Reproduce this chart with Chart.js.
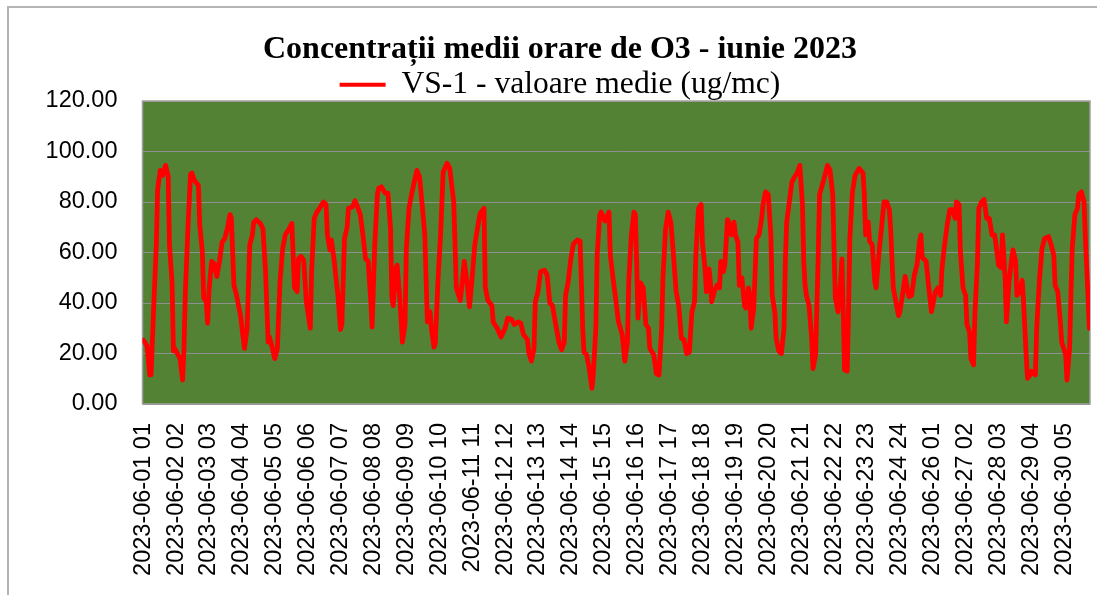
<!DOCTYPE html>
<html>
<head>
<meta charset="utf-8">
<script src="https://cdn.jsdelivr.net/npm/chart.js@4.4.0/dist/chart.umd.min.js"></script>
<style>
  html, body { margin: 0; padding: 0; background: #fff; }
  #wrap { width: 1097px; height: 595px; }
</style>
</head>
<body>
<div id="wrap"><canvas id="o3Chart" width="1097" height="595"></canvas></div>
<script>
// Hourly O3 averages, June 2023 (hour index from 2023-06-01 01)
const hours = [0,3,5,6,8,10,11,13,15,17,19,20,22,23,24,26,28,30,31,32,34,36,37,39,42,43,45,46,48,49,50,52,54,56,58,60,62,64,66,67,69,71,74,77,79,81,83,84,86,89,91,93,95,96,98,100,102,104,106,108,111,113,115,117,118,120,122,124,127,128,130,132,134,137,139,140,142,143,145,148,150,151,153,155,156,159,161,163,165,167,169,171,173,174,176,178,179,181,184,186,188,189,190,192,193,195,197,199,200,202,204,206,208,210,212,214,216,218,219,221,222,224,226,228,231,233,236,238,241,243,244,246,248,250,252,254,256,257,259,260,262,265,266,269,272,275,277,280,282,285,287,289,292,293,295,297,298,300,302,305,307,309,311,314,316,318,320,321,323,325,327,330,332,333,334,335,337,339,341,342,344,345,347,348,351,354,355,357,359,361,364,366,368,369,371,373,374,375,376,378,380,382,384,385,388,390,392,394,395,397,399,401,403,405,407,409,411,413,415,417,419,420,422,424,425,427,428,430,431,432,434,436,438,439,441,442,444,445,447,449,450,452,453,455,457,458,460,461,462,464,466,468,470,471,473,475,477,478,480,481,483,485,487,488,489,491,493,495,497,499,501,502,503,504,506,508,509,511,513,514,517,520,522,524,525,526,528,530,531,532,533,535,536,537,539,541,544,547,548,549,551,552,554,556,557,559,561,563,565,567,568,570,572,574,575,577,579,581,582,584,586,588,590,591,592,594,595,597,599,600,602,604,606,607,609,611,613,615,617,618,620,621,623,625,626,628,629,631,632,634,635,637,639,641,643,645,647,648,650,652,653,655,656,658,660,661,663,664,666,668,669,671,672,674,675,678,679,681,683,685,688,690,692,693,695,697,698,701,702,704,705,706,708,710,711,713,715,716,718,719];
const o3 = [25.3,23,11.5,11.5,38,63,85,92.5,90.5,94.5,90.5,63,48,21,22,20,18,9.5,22,43,69.5,91,91.5,88.5,86.5,71,60,42,40.5,32,44.5,56.5,55.5,50.5,56.5,64,65.5,69.5,75,73.5,47,43,35,22,30,63,67,72,73,71.5,69.5,52.5,24.5,26.5,22.5,18,22,48.5,61.5,67,69.5,71.5,46,44.5,57.5,58.5,57,40.5,30,52.5,73.5,76,77.5,80,79,67,61,65,57.5,43,29.5,31.5,65.5,70,77.5,78,80.5,78,75,67,57.5,56.5,40.5,30.5,63,83,85.5,86,83.5,83.5,69.5,42,39,53.5,55,42,24.5,31.5,61.5,77.5,83,88,92.5,90,79,67,32.5,36.5,30,22.5,24,48.5,67,92,95.3,93.3,80,46,41,51,56.5,48.5,38.5,50,63,69.5,75.5,76,77.5,46,41,39,32.5,30,26.5,30,34,33.5,31.5,32.5,32,27.5,25.5,20.5,17,22,40.5,44.5,52.5,53,51,40,39,30,24.5,21.5,24.5,43,48.5,57.5,63.5,65,64.5,48.5,30,20.5,19.5,14,6.2,11.5,30,59,75,76,72.5,76,59,50,42,33,27.5,17,24.5,48.5,67,76,75,56.5,34,48,46,31.5,30,22,19.5,12,11.5,30,50,69.5,76,72,59,44.5,39,26,25.5,20,20.5,36.5,40.5,59,77.5,79,64,53.5,44.5,53.5,48.5,40.5,44.5,47,46,56.5,52.5,55,73,72,67,72,67,64,47,50,39,38,46,43,30,38,65.5,67,73.5,79,84,83,67,43,36.5,26,21,20,30,56.5,72,80,88,90,91.5,94.5,79,56.5,47,43,39,26,14,19.5,59,83,88.5,94.5,92.5,83,61.5,42,36.5,48.5,57.5,36.5,13.5,13,36.5,65.5,84,90.5,93.3,91.5,83,67,72,64.5,63,48.5,46,59,69.5,80,80,77,69.5,46,40.5,35,36.5,43,50.5,44.5,42.5,43,51,55,64.5,67,58,57,56.5,46,36.5,39,44.5,46,43,53.5,63,71,77,77,73.5,80,79,60.5,46,43,31.5,28.5,18,15.5,35,56.5,77.5,80,81,73.5,73.5,67,67,63.5,55,54,67,50,32.5,48.5,57.5,61,56.5,43,44.5,49,40.5,19.5,10.2,11.5,13,11.5,30,48.5,61.5,65.5,66.3,63,59,47,44.5,32.5,24.5,19.5,9.5,22,43,61.5,75,77.5,83,84,80,65.5,43,30];

// Axis labels: Excel shows one every 25 hours
const tickHours = [0,25,50,75,100,125,150,175,200,225,250,275,300,325,350,375,400,425,450,475,500,525,550,575,600,625,650,675,700];
const tickLabels = ['2023-06-01 01','2023-06-02 02','2023-06-03 03','2023-06-04 04','2023-06-05 05','2023-06-06 06','2023-06-07 07','2023-06-08 08','2023-06-09 09','2023-06-10 10','2023-06-11 11','2023-06-12 12','2023-06-13 13','2023-06-14 14','2023-06-15 15','2023-06-16 16','2023-06-17 17','2023-06-18 18','2023-06-19 19','2023-06-20 20','2023-06-21 21','2023-06-22 22','2023-06-23 23','2023-06-24 24','2023-06-26 01','2023-06-27 02','2023-06-28 03','2023-06-29 04','2023-06-30 05'];
const yTicks = [0, 20, 40, 60, 80, 100, 120];

const seriesName = 'VS-1 - valoare medie (ug/mc)';
const chartTitle = 'Concentrații medii orare de O3 - iunie 2023';

// background of plot area + outer chart frame
const framePlugin = {
  id: 'frame',
  beforeDraw(chart) {
    const { ctx, chartArea: a } = chart;
    ctx.save();
    ctx.fillStyle = '#ffffff';
    ctx.fillRect(0, 0, chart.width, chart.height);
    ctx.strokeStyle = '#b4b4b4';
    ctx.lineWidth = 2;
    ctx.beginPath();
    ctx.moveTo(8, chart.height + 2);
    ctx.lineTo(8, 7);
    ctx.lineTo(chart.width + 2, 7);
    ctx.stroke();
    ctx.fillStyle = '#548235';
    ctx.fillRect(a.left, a.top, a.right - a.left, a.bottom - a.top);
    ctx.restore();
  },
  beforeDatasetsDraw(chart) {
    const { ctx, chartArea: a } = chart;
    ctx.save();
    ctx.strokeStyle = '#a0a0a0';
    ctx.lineWidth = 1.5;
    ctx.strokeRect(a.left, a.top, a.right - a.left, a.bottom - a.top);
    ctx.restore();
  }
};

const ctx = document.getElementById('o3Chart').getContext('2d');
new Chart(ctx, {
  type: 'line',
  data: {
    datasets: [{
      label: seriesName,
      data: hours.map((h, i) => ({ x: h, y: o3[i] })),
      borderColor: '#ff0000',
      backgroundColor: '#ff0000',
      borderWidth: 4.8,
      borderJoinStyle: 'round',
      borderCapStyle: 'round',
      pointRadius: 0,
      tension: 0,
      fill: false
    }]
  },
  options: {
    responsive: false,
    animation: false,
    devicePixelRatio: 1,
    layout: { padding: { top: 0, left: 30, right: 7, bottom: 0 } },
    plugins: {
      title: {
        display: true,
        text: chartTitle,
        color: '#000',
        font: { family: 'Liberation Serif', size: 32, weight: 'bold' },
        padding: { top: 30.4, bottom: 0.1 }
      },
      legend: {
        display: true,
        maxHeight: 32.1,
        labels: {
          color: '#000',
          font: { family: 'Liberation Serif', size: 31.6 },
          boxWidth: 46,
          boxHeight: 4,
          padding: 0,
          generateLabels: chart => Chart.defaults.plugins.legend.labels.generateLabels(chart)
            .map(l => ({ ...l, lineWidth: 0, fillStyle: '#ff0000' }))
        }
      },
      tooltip: { enabled: false }
    },
    scales: {
      x: {
        type: 'linear',
        min: -0.5,
        max: 719.5,
        grid: { display: false, drawTicks: false },
        border: { display: false },
        afterBuildTicks: s => { s.ticks = tickHours.map(v => ({ value: v })); },
        afterFit: s => { s.height = 191; s.paddingLeft = 0; s.paddingRight = 0; },
        ticks: {
          autoSkip: false,
          minRotation: 90,
          maxRotation: 90,
          padding: 19,
          color: '#000',
          font: { family: 'Liberation Sans', size: 23.5 },
          callback: (v, i) => tickLabels[i]
        }
      },
      y: {
        min: 0,
        max: 120,
        grid: { color: '#8f8f8f', lineWidth: 1, drawTicks: false },
        border: { display: false },
        afterBuildTicks: s => { s.ticks = yTicks.map(v => ({ value: v })); },
        afterFit: s => { s.width = 112.5; },
        ticks: {
          padding: 25,
          color: '#000',
          font: { family: 'Liberation Sans', size: 23.5 },
          callback: v => Number(v).toFixed(2)
        }
      }
    }
  },
  plugins: [framePlugin]
});
</script>
</body>
</html>
